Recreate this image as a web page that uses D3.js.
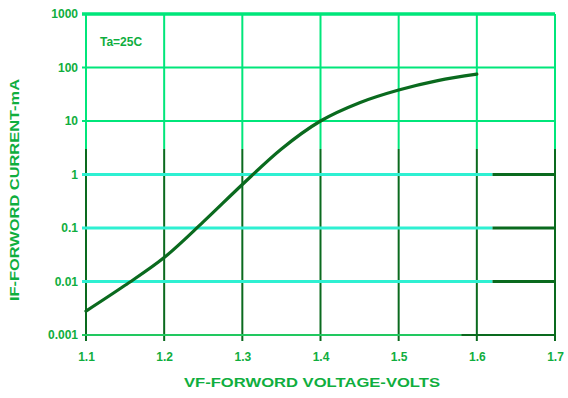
<!DOCTYPE html>
<html><head><meta charset="utf-8">
<script src="https://cdn.jsdelivr.net/npm/d3@7"></script>
<style>body{margin:0;background:#fff}svg{display:block}</style>
</head><body>
<svg id="c" width="568" height="398"></svg>
<script>
const xTicks = [1.1, 1.2, 1.3, 1.4, 1.5, 1.6, 1.7];
const xTickLabels = ["1.1", "1.2", "1.3", "1.4", "1.5", "1.6", "1.7"];
const yTicks = [0.001, 0.01, 0.1, 1, 10, 100, 1000];
const yTickLabels = ["0.001", "0.01", "0.1", "1", "10", "100", "1000"];
const voltage = [1.1, 1.15, 1.2, 1.25, 1.3, 1.35, 1.4, 1.45, 1.5, 1.55, 1.6];
const current = [0.0028, 0.0085, 0.028, 0.13, 0.65, 3.0, 10, 22, 38, 57, 75];
const noteText = "Ta=25C";
const xTitle = "VF-FORWORD VOLTAGE-VOLTS";
const yTitle = "IF-FORWORD CURRENT-mA";

const svg = d3.select("#c");
const L = 86, R = 555, T = 14, B = 335;
const x = d3.scaleLinear().domain([1.1, 1.7]).range([L, R]);
const y = d3.scaleLog().domain([0.001, 1000]).range([B, T]);

const bright = "#00e67a", dark = "#0a6a1e", cyan = "#2ef0d2", lbl = "#0fae3e";
const split = y(3);

const g = svg.append("g");
xTicks.forEach(v => {
  g.append("line").attr("x1", x(v)).attr("x2", x(v)).attr("y1", T).attr("y2", split)
    .attr("stroke", bright).attr("stroke-width", 2);
  g.append("line").attr("x1", x(v)).attr("x2", x(v)).attr("y1", split).attr("y2", B + 6)
    .attr("stroke", dark).attr("stroke-width", 2);
});
yTicks.forEach(v => {
  const yy = y(v);
  if (v >= 10) {
    g.append("line").attr("x1", L - 4).attr("x2", R).attr("y1", yy).attr("y2", yy)
      .attr("stroke", bright).attr("stroke-width", v === 1000 ? 3.5 : 2);
  } else if (v >= 0.01) {
    g.append("line").attr("x1", L - 4).attr("x2", x(1.62)).attr("y1", yy).attr("y2", yy)
      .attr("stroke", cyan).attr("stroke-width", 3);
    g.append("line").attr("x1", x(1.62)).attr("x2", R).attr("y1", yy).attr("y2", yy)
      .attr("stroke", dark).attr("stroke-width", 3);
  } else {
    g.append("line").attr("x1", L - 4).attr("x2", x(1.58)).attr("y1", yy).attr("y2", yy)
      .attr("stroke", "#22c860").attr("stroke-width", 2);
    g.append("line").attr("x1", x(1.58)).attr("x2", R).attr("y1", yy).attr("y2", yy)
      .attr("stroke", dark).attr("stroke-width", 2);
  }
});

const xAxis = d3.axisBottom(x).tickValues(xTicks).tickFormat((d, i) => xTickLabels[i]).tickSize(0).tickPadding(17);
const yAxis = d3.axisLeft(y).tickValues(yTicks).tickFormat((d, i) => yTickLabels[i]).tickSize(0).tickPadding(8);
const gx = svg.append("g").attr("transform", `translate(0,${B})`).call(xAxis);
const gy = svg.append("g").attr("transform", `translate(${L},0)`).call(yAxis);
[gx, gy].forEach(a => {
  a.select(".domain").remove();
  a.selectAll("text").attr("fill", lbl).attr("font-family", "Liberation Sans, Arial, sans-serif")
    .attr("font-weight", "bold").attr("font-size", 12);
});

const line = d3.line().x((d, i) => x(voltage[i])).y(d => y(d)).curve(d3.curveMonotoneX);
svg.append("path").datum(current).attr("d", line).attr("fill", "none")
  .attr("stroke", dark).attr("stroke-width", 3.2).attr("stroke-linecap", "round");

svg.append("text").attr("x", 100).attr("y", 46).text(noteText)
  .attr("fill", lbl).attr("font-family", "Liberation Sans, Arial, sans-serif")
  .attr("font-size", 12).attr("font-weight", "bold");

svg.append("text").attr("x", 312).attr("y", 387).attr("text-anchor", "middle").text(xTitle)
  .attr("fill", lbl).attr("font-family", "Liberation Sans, Arial, sans-serif")
  .attr("font-size", 12).attr("font-weight", "bold")
  .attr("textLength", 256).attr("lengthAdjust", "spacingAndGlyphs");
svg.append("text").attr("transform", "translate(19,190) rotate(-90)").attr("text-anchor", "middle").text(yTitle)
  .attr("fill", lbl).attr("font-family", "Liberation Sans, Arial, sans-serif")
  .attr("font-size", 12).attr("font-weight", "bold")
  .attr("textLength", 222).attr("lengthAdjust", "spacingAndGlyphs");
</script>
</body></html>
